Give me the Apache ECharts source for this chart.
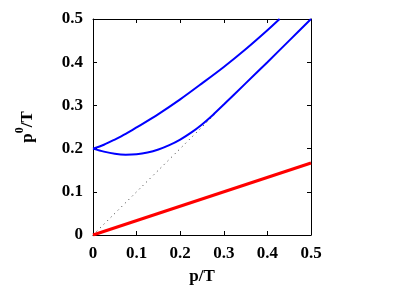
<!DOCTYPE html>
<html>
<head>
<meta charset="utf-8">
<script src="https://cdn.jsdelivr.net/npm/echarts@6/dist/echarts.min.js"></script>
<style>html,body{margin:0;padding:0;background:#fff}#c{width:415px;height:291px}</style>
</head>
<body>
<div id="c"></div>
<script>
// tick labels
const xTicks = [0, 0.1, 0.2, 0.3, 0.4, 0.5];
const yTicks = [0, 0.1, 0.2, 0.3, 0.4, 0.5];
// upper blue branch (p/T, p0/T)
const upperP = [0, 0.025, 0.05, 0.075, 0.1, 0.15, 0.2, 0.25, 0.3, 0.35, 0.4, 0.428];
const upperV = [0.2, 0.209, 0.221, 0.234, 0.249, 0.28, 0.314, 0.351, 0.389, 0.43, 0.474, 0.5];
// lower blue branch
const lowerP = [0, 0.025, 0.05, 0.075, 0.1, 0.125, 0.15, 0.175, 0.2, 0.225, 0.25, 0.275, 0.3, 0.35, 0.4, 0.45, 0.5];
const lowerV = [0.2, 0.193, 0.188, 0.186, 0.187, 0.191, 0.198, 0.208, 0.221, 0.237, 0.256, 0.278, 0.302, 0.351, 0.4, 0.45, 0.5];
// red line
const redP = [0, 0.5];
const redV = [0, 0.1667];
// dotted light-cone line
const dotP = [0, 0.285];
const dotV = [0, 0.285];

const zip = (a, b) => a.map((v, i) => [v, b[i]]);
const font = 'Liberation Serif';
const lbl = {fontFamily: font, fontWeight: 'bold', fontSize: 17, color: '#000'};

const chart = echarts.init(document.getElementById('c'));
const axisCommon = {
  min: 0, max: 0.5, interval: 0.1,
  axisLine: {show: true, onZero: false, lineStyle: {color: '#000', width: 1}},
  axisTick: {show: true, inside: true, length: 4, lineStyle: {color: '#000'}},
  splitLine: {show: false}
};
chart.setOption({
  animation: false,
  grid: {left: 93, right: 104, top: 19, bottom: 56},
  xAxis: [
    Object.assign({}, axisCommon, {
      type: 'value', position: 'bottom',
      name: 'p/T', nameLocation: 'middle', nameGap: 33,
      nameTextStyle: lbl,
      axisLabel: Object.assign({margin: 10, formatter: v => xTicks.includes(+v.toFixed(1)) ? String(+v.toFixed(1)) : ''}, lbl)
    }),
    Object.assign({}, axisCommon, {type: 'value', position: 'top', axisLabel: {show: false}})
  ],
  yAxis: [
    Object.assign({}, axisCommon, {
      type: 'value', position: 'left',
      name: '{a|p}{b|0}{a|/T}', nameLocation: 'middle', nameGap: 57, nameRotate: 90,
      nameTextStyle: {rich: {
        a: {fontFamily: font, fontWeight: 'bold', fontSize: 17, color: '#000', verticalAlign: 'bottom', lineHeight: 22},
        b: {fontFamily: font, fontWeight: 'bold', fontSize: 12, color: '#000', verticalAlign: 'top', lineHeight: 22}
      }},
      axisLabel: Object.assign({margin: 10, formatter: v => yTicks.includes(+v.toFixed(1)) ? String(+v.toFixed(1)) : ''}, lbl)
    }),
    Object.assign({}, axisCommon, {type: 'value', position: 'right', axisLabel: {show: false}})
  ],
  series: [
    {type: 'line', data: zip(dotP, dotV), symbol: 'none', lineStyle: {color: '#333', width: 1, type: [1, 4]}},
    {type: 'line', data: zip(redP, redV), symbol: 'none', lineStyle: {color: '#ff0000', width: 3}},
    {type: 'line', data: zip(upperP, upperV), symbol: 'none', smooth: 0.3, lineStyle: {color: '#0000ff', width: 2}},
    {type: 'line', data: zip(lowerP, lowerV), symbol: 'none', smooth: 0.3, lineStyle: {color: '#0000ff', width: 2}}
  ]
});
</script>
</body>
</html>
